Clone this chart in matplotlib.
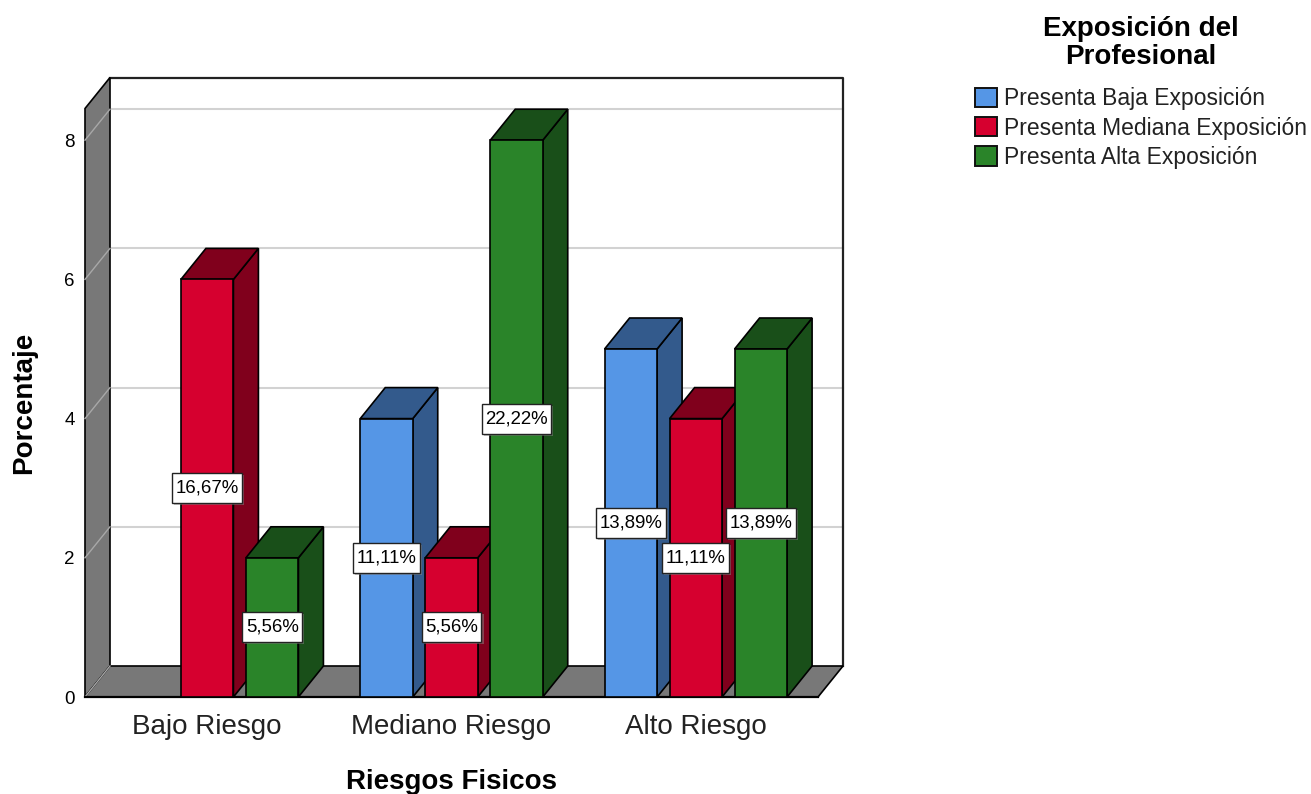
import matplotlib
matplotlib.use("Agg")
import matplotlib.pyplot as plt
import matplotlib.patheffects as pe
from matplotlib.patches import Patch
from matplotlib.path import Path

categories = ["Bajo Riesgo", "Mediano Riesgo", "Alto Riesgo"]
series_names = ["Presenta Baja Exposición", "Presenta Mediana Exposición", "Presenta Alta Exposición"]
baja = [0, 4, 5]
mediana = [6, 2, 4]
alta = [2, 8, 5]
baja_labels = ["", "11,11%", "13,89%"]
mediana_labels = ["16,67%", "5,56%", "11,11%"]
alta_labels = ["5,56%", "22,22%", "13,89%"]
yticks = [0, 2, 4, 6, 8]
front_colors = ["#5596E6", "#D6002F", "#2A8429"]
dark_colors = ["#335A8C", "#80001C", "#194F19"]

plt.rcParams["font.family"] = ["Liberation Sans", "DejaVu Sans"]
W, H = 1311, 794
fig = plt.figure(figsize=(W / 100, H / 100), dpi=100)
ax = fig.add_axes([85 / W, (H - 697) / H, 733 / W, 588.5 / H])
YMAX = 588.5 / 69.6
ax.set_xlim(-0.5, 2.5)
ax.set_ylim(0, YMAX)
ax.patch.set_visible(False)
for s in ax.spines.values():
    s.set_visible(False)

px_x = 3 / 733
px_y = YMAX / 588.5
DX = 25 * px_x
DY = 31 * px_y
BAR_W = 52.5 * px_x
PITCH = 65 * px_x
EDGE = "#000000"

# walls
x0, x1 = -0.5, 2.5
ax.fill([x0, x0 + DX, x0 + DX, x0], [0, DY, YMAX + DY, YMAX], fc="#787878", ec=EDGE, lw=1.2, zorder=1, clip_on=False)
ax.fill([x0, x1, x1 + DX, x0 + DX], [0, 0, DY, DY], fc="#787878", ec=EDGE, lw=1.2, zorder=1, clip_on=False)
for t in yticks[1:]:
    ax.plot([x0 + DX, x1 + DX], [t + DY, t + DY], color="#D2D2D2", lw=1.5, zorder=0.5, clip_on=False)
    ax.plot([x0, x0 + DX], [t, t + DY], color="#A8A8A8", lw=1, zorder=1.5, clip_on=False)
ax.plot([x0, x0 + DX], [0, DY], color="#A8A8A8", lw=1, zorder=1.5, clip_on=False)
ax.plot([x0 + DX, x1 + DX, x1 + DX], [YMAX + DY, YMAX + DY, DY], color="#222222", lw=1.6, zorder=0.6, clip_on=False)
ax.plot([x0, x1], [0, 0], color=EDGE, lw=1.6, zorder=1.6, clip_on=False)


def box(x, y, w, h, m):
    px, py = 3.5, 6.5
    a, b, c, d = x - px, y - py, x + w + px, y + h + py
    return Path([(a, b), (c, b), (c, d), (a, d), (a, b)],
                [Path.MOVETO, Path.LINETO, Path.LINETO, Path.LINETO, Path.CLOSEPOLY])


all_vals = [baja, mediana, alta]
all_labs = [baja_labels, mediana_labels, alta_labels]
z = 3
for c in range(len(categories)):
    for s in range(3):
        v = all_vals[s][c]
        if v == 0:
            continue
        xc = c + (s - 1) * PITCH
        l, r = xc - BAR_W / 2, xc + BAR_W / 2
        ax.fill([r, r + DX, r + DX, r], [0, DY, v + DY, v], fc=dark_colors[s], ec=EDGE, lw=1.2, zorder=z, clip_on=False)
        ax.fill([l, r, r + DX, l + DX], [v, v, v + DY, v + DY], fc=dark_colors[s], ec=EDGE, lw=1.2, zorder=z, clip_on=False)
        ax.bar(xc, v, width=BAR_W, color=front_colors[s], edgecolor=EDGE, linewidth=1.2, zorder=z + 0.5, clip_on=False)
        z += 1
for c in range(len(categories)):
    for s in range(3):
        v = all_vals[s][c]
        if v == 0:
            continue
        xc = c + (s - 1) * PITCH
        t = ax.text(xc, v / 2, all_labs[s][c], ha="center", va="center", fontsize=13.4, color="#000000", zorder=50,
                    bbox=dict(boxstyle=box, fc="white", ec="#222222", lw=1))
        t.get_bbox_patch().set_path_effects([pe.SimplePatchShadow(offset=(1.5, -1.5), shadow_rgbFace="#888888", alpha=0.5), pe.Normal()])

ax.set_xticks(range(3), categories, fontsize=20, color="#222222")
ax.set_yticks(yticks, [str(t) for t in yticks], fontsize=13.5, color="#000000")
ax.tick_params(axis="both", length=0)
ax.tick_params(axis="x", pad=12.6)
ax.tick_params(axis="y", pad=7.5)
ax.set_xlabel("Riesgos Fisicos", fontsize=20, fontweight="bold")
ax.xaxis.set_label_coords(0.5, -0.122)
ax.set_ylabel("Porcentaje", fontsize=20, fontweight="bold")
ax.yaxis.set_label_coords(-0.0655, 0.5)

handles = [Patch(fc=front_colors[i], ec="#111111", lw=1.4) for i in range(3)]
leg = fig.legend(handles, series_names, loc="upper left", bbox_to_anchor=(975 / W, 1 - 16 / H), frameon=False,
                 title="Exposición del\nProfesional", fontsize=16.5, borderpad=0, borderaxespad=0,
                 handlelength=0.96, handleheight=0.92, handletextpad=0.3, labelspacing=0.28, alignment="center",
                 title_fontproperties={"size": 20, "weight": "bold"})
for tx in leg.get_texts():
    tx.set_color("#222222")
leg.get_title().set_linespacing(1.1)
leg.get_title().set_multialignment("center")
leg._legend_box.sep = 12.3

fig.savefig("out.png", dpi=100)
